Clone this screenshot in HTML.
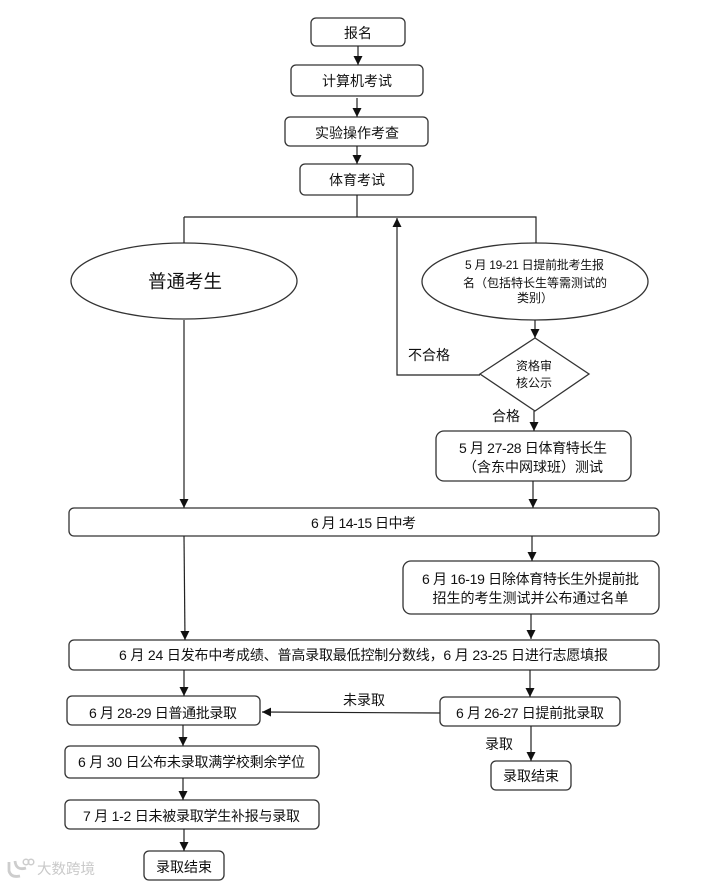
<!DOCTYPE html>
<html><head><meta charset="utf-8"><style>
html,body{margin:0;padding:0;background:#fff;width:726px;height:883px;overflow:hidden}
svg{display:block}
text{font-family:"Liberation Sans","Noto Sans CJK SC",sans-serif;font-size:14px;fill:#111;text-anchor:middle}
.b{fill:#fff;stroke:#333;stroke-width:1.3}
.l{stroke:#222;stroke-width:1.2;fill:none}
</style></head><body>
<svg width="726" height="883" viewBox="0 0 726 883" xmlns="http://www.w3.org/2000/svg">
<defs><marker id="a" markerUnits="userSpaceOnUse" markerWidth="10" markerHeight="10" refX="9" refY="4.5" orient="auto"><path d="M0 0L9 4.5L0 9Z" fill="#111"/></marker></defs>
<rect class="b" x="311" y="18" width="94" height="28" rx="5"/>
<rect class="b" x="291" y="65" width="132" height="31" rx="5"/>
<rect class="b" x="285" y="117" width="143" height="29" rx="5"/>
<rect class="b" x="300" y="164" width="113" height="31" rx="5"/>
<ellipse class="b" cx="184" cy="281" rx="113" ry="38"/>
<ellipse class="b" cx="535" cy="281.500" rx="113" ry="38.500"/>
<polygon class="b" points="480,374 535,338 589,374 535,411"/>
<rect class="b" x="436" y="431" width="195" height="50" rx="8"/>
<rect class="b" x="69" y="508" width="590" height="28" rx="5"/>
<rect class="b" x="403" y="561" width="256" height="53" rx="8"/>
<rect class="b" x="69" y="640" width="590" height="30" rx="5"/>
<rect class="b" x="440" y="697" width="180" height="29" rx="5"/>
<rect class="b" x="491" y="761" width="80" height="29" rx="5"/>
<rect class="b" x="67" y="696" width="193" height="29" rx="5"/>
<rect class="b" x="65" y="746" width="254" height="32" rx="5"/>
<rect class="b" x="65" y="800" width="254" height="29" rx="5"/>
<rect class="b" x="144" y="851" width="80" height="29" rx="5"/>

<path class="l" marker-end="url(#a)" d="M358 46V65"/>
<path class="l" marker-end="url(#a)" d="M357 98V117"/>
<path class="l" marker-end="url(#a)" d="M357 146V164"/>
<path class="l" d="M357 195V217M184 217H536V243M184 217V243"/>
<path class="l" marker-end="url(#a)" d="M480 375H397V218"/>
<path class="l" marker-end="url(#a)" d="M535 320V338"/>
<path class="l" marker-end="url(#a)" d="M534 411V431"/>
<path class="l" marker-end="url(#a)" d="M533 481V508"/>
<path class="l" marker-end="url(#a)" d="M184 320V508"/>
<path class="l" marker-end="url(#a)" d="M532 536V561"/>
<path class="l" marker-end="url(#a)" d="M184 536L185 640"/>
<path class="l" marker-end="url(#a)" d="M531 614V639"/>
<path class="l" marker-end="url(#a)" d="M530 670V697"/>
<path class="l" marker-end="url(#a)" d="M184 670V696"/>
<path class="l" marker-end="url(#a)" d="M440 713L262 712"/>
<path class="l" marker-end="url(#a)" d="M531 726V761"/>
<path class="l" marker-end="url(#a)" d="M183 725V746"/>
<path class="l" marker-end="url(#a)" d="M183 778V800"/>
<path class="l" marker-end="url(#a)" d="M184 829V851"/>

<text x="358" y="38">报名</text>
<text x="357" y="86">计算机考试</text>
<text x="357" y="138">实验操作考查</text>
<text x="357" y="185">体育考试</text>
<text x="185" y="288" style="font-size:18.500px">普通考生</text>
<text x="534.500" y="269" style="font-size:12px" textLength="139">5 月 19-21 日提前批考生报</text>
<text x="535" y="287" style="font-size:12px" textLength="144">名（包括特长生等需测试的</text>
<text x="535" y="302" style="font-size:12px">类别）</text>
<text x="534" y="370" style="font-size:12px">资格审</text>
<text x="534" y="387" style="font-size:12px">核公示</text>
<text x="429" y="360">不合格</text>
<text x="506" y="421">合格</text>
<text x="533" y="453" textLength="148">5 月 27-28 日体育特长生</text>
<text x="533" y="472">（含东中网球班）测试</text>
<text x="363.500" y="528" textLength="105">6 月 14-15 日中考</text>
<text x="530.500" y="584" textLength="217">6 月 16-19 日除体育特长生外提前批</text>
<text x="530.500" y="603">招生的考生测试并公布通过名单</text>
<text x="363.500" y="660" textLength="489">6 月 24 日发布中考成绩、普高录取最低控制分数线，6 月 23-25 日进行志愿填报</text>
<text x="364" y="705">未录取</text>
<text x="530" y="718" textLength="148">6 月 26-27 日提前批录取</text>
<text x="499" y="749">录取</text>
<text x="531" y="781">录取结束</text>
<text x="163" y="718" textLength="148">6 月 28-29 日普通批录取</text>
<text x="191.500" y="767" textLength="227">6 月 30 日公布未录取满学校剩余学位</text>
<text x="191.500" y="821" textLength="217">7 月 1-2 日未被录取学生补报与录取</text>
<text x="184" y="872">录取结束</text>

<g opacity="0.9">
<path d="M9 862V871Q11 878 20 876M15 861Q16 871 26 868" fill="none" stroke="#c8c8c8" stroke-width="2.800"/>
<circle cx="26" cy="862" r="2.800" fill="none" stroke="#c8c8c8" stroke-width="1.500"/>
<circle cx="31" cy="862" r="2.800" fill="none" stroke="#c8c8c8" stroke-width="1.500"/>
<text x="66" y="874" style="font-size:14.500px;fill:#c4c4c4">大数跨境</text>
</g>
</svg>
</body></html>
